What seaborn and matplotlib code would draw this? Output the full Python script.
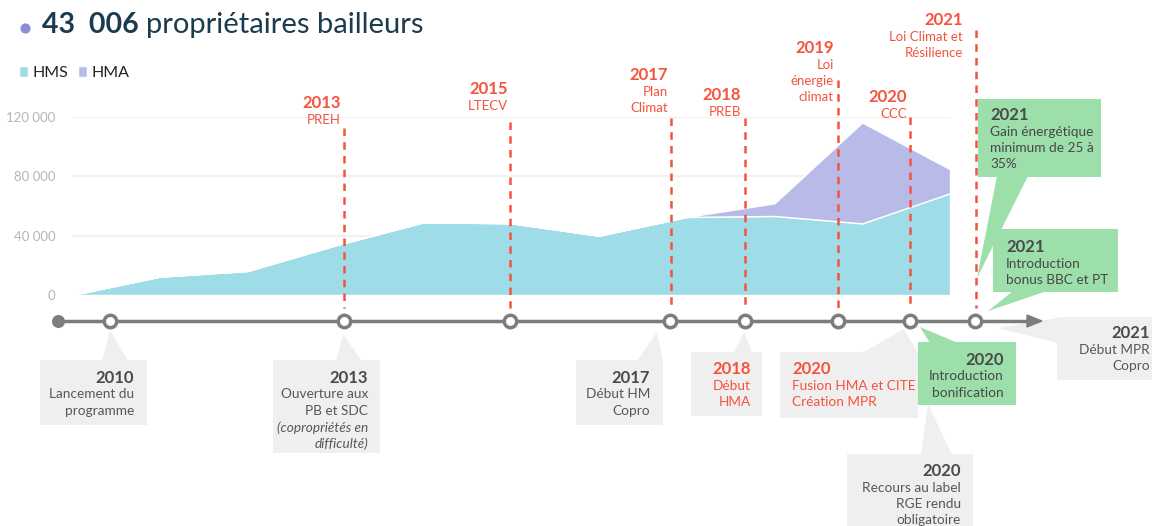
import matplotlib
matplotlib.use("Agg")
import matplotlib.pyplot as plt
import seaborn as sns
from matplotlib.patches import Rectangle, Polygon
from matplotlib.ticker import FuncFormatter

# --- données ---
periodes = list(range(11))
hms = [0, 12400, 16200, 33500, 49000, 48400, 40000, 52600, 53300, 48300, 68600]
hma = [0, 0, 0, 0, 0, 0, 0, 0, 8500, 68000, 16200]
series = ["HMS", "HMA"]
yticks = [0, 40000, 80000, 120000]

titre_chiffre = "43  006"
titre_texte = "propriétaires bailleurs"

lois_annees = ["2013", "2015", "2017", "2018", "2019", "2020", "2021"]
lois_noms = ["PREH", "LTECV", "Plan\nClimat", "PREB", "Loi\nénergie\nclimat", "CCC",
             "Loi Climat et\nRésilience"]

etapes_annees = ["2010", "2013", "2017", "2018", "2020", "2020", "2020", "2021", "2021", "2021"]
etapes_textes = [
    ["Lancement du", "programme"],
    ["Ouverture aux", "PB et SDC", "(copropriétés en", "difficulté)"],
    ["Début HM", "Copro"],
    ["Début", "HMA"],
    ["Fusion HMA et CITE", "Création MPR"],
    ["Introduction", "bonification"],
    ["Recours au label", "RGE rendu", "obligatoire"],
    ["Début MPR", "Copro"],
    ["Gain énergétique", "minimum de 25 à", "35%"],
    ["Introduction", "bonus BBC et PT"],
]

# --- mise en page (pixels) ---
W, H = 1152, 526
lois_x = [344, 510, 671, 745, 838, 910, 976]
lois_txt = [(341, 103), (508, 89), (668, 75), (741, 95), (834, 48), (907, 97), (963, 20)]
lois_debut = [128, 122, 118, 118, 80, 117, 30]
jalons_x = [110, 344, 510, 670, 745, 838, 910, 975]

# (boîte, pointeur, ancrage texte, alignement, style)
callouts = [
    ((40, 360, 147, 425), [(110, 330), (102, 361), (128, 361)], (134, 378), "right", "gris"),
    ((273, 360, 380, 453), [(343, 334), (336, 361), (362, 361)], (368, 378), "right", "gris"),
    ((576, 360, 663, 425), [(657, 332), (637, 361), (663, 361)], (650, 378), "right", "gris"),
    ((691, 352, 762, 416), [(744, 332), (734, 353), (752, 353)], (751, 369), "right", "rouge"),
    ((780, 352, 918, 418), [(862, 353), (904, 329), (918, 353)], (792, 369), "left", "rouge"),
    ((918, 342, 1016, 405), [(920, 327), (930, 343), (958, 343)], (1004, 360), "right", "vert"),
    ((847, 454, 973, 530), [(928, 404), (921, 455), (952, 455)], (961, 471), "right", "gris"),
    ((1057, 317, 1160, 380), [(997, 328), (1058, 318), (1058, 343)], (1150, 333), "right", "gris"),
    ((978, 99, 1101, 177), [(997, 176), (1028, 176), (977, 278)], (990, 115), "left", "vert"),
    ((993, 229, 1118, 292), [(1013, 291), (1047, 291), (988, 311)], (1006, 247), "left", "vert"),
]

c_hms = "#9EDDE8"
c_hma = "#B8BBE8"
rouge = "#F5533D"
gris_fond = "#EFEFEF"
vert_fond = "#9DDFAB"
gris_ligne = "#7D7D7D"
navy = "#1C3B4F"

sns.set_theme(style="white")
plt.rcParams["font.family"] = ["Lato", "DejaVu Sans"]

fig = plt.figure(figsize=(W / 100, H / 100), dpi=100)

# --- graphique en aires ---
x0, x1, y0, y1 = 72, 950, 295, 117
ax = fig.add_axes([x0 / W, (H - y0) / H, (x1 - x0) / W, (y0 - y1) / H])
polys = ax.stackplot(periodes, hms, hma, colors=[c_hms, c_hma], labels=series, zorder=2)
ax.set_xlim(0, 10)
ax.set_ylim(0, 120000)
ax.set_yticks(yticks)
ax.yaxis.set_major_formatter(FuncFormatter(lambda v, p: f"{int(v):,}".replace(",", " ")))
ax.set_xticks([])
ax.tick_params(axis="y", length=0, pad=12, labelsize=9.5, labelcolor="#B5B5B5")
ax.grid(axis="y", color="#F1F1F1", linewidth=1.5, zorder=0)
ax.set_axisbelow(True)
sns.despine(ax=ax, left=True, bottom=True)
ax.patch.set_alpha(0)

fig.legend(handles=polys, labels=series, loc="center left", bbox_to_anchor=(5 / W, 1 - 73 / H),
           ncol=2, frameon=False, handlelength=0.55, handleheight=0.7, handletextpad=0.3,
           columnspacing=0.6, fontsize=11.5, labelcolor="#222222")

# --- surcouche annotations ---
ov = fig.add_axes([0, 0, 1, 1])
ov.set_xlim(0, W)
ov.set_ylim(H, 0)
ov.axis("off")
ov.patch.set_alpha(0)

# titre
ov.scatter([25], [28], s=40, color="#8C8ED6", zorder=5)
ov.text(42, 25, titre_chiffre, fontsize=20.5, fontweight="bold", color=navy, va="center", ha="left")
ov.text(146, 25, titre_texte, fontsize=21, color=navy, va="center", ha="left")

# lois en rouge
for annee, nom, lx, (tx, ty), yd in zip(lois_annees, lois_noms, lois_x, lois_txt, lois_debut):
    ov.plot([lx, lx], [yd, 308], color=rouge, linewidth=1.8, linestyle=(0, (3, 2.5)), zorder=3)
    ov.text(tx, ty, annee, fontsize=12, fontweight="bold", color=rouge, ha="right", va="center")
    for i, ligne in enumerate(nom.split("\n")):
        ov.text(tx, ty + 17 + 16 * i, ligne, fontsize=9.5, color=rouge, ha="right", va="center")

# frise chronologique
ov.plot([58, 1030], [321, 321], color=gris_ligne, linewidth=2.5, zorder=4, solid_capstyle="butt")
ov.add_patch(Polygon([(1027, 315), (1042, 321), (1027, 327)], closed=True, color=gris_ligne, zorder=4))
ov.scatter([58], [321], s=70, color=gris_ligne, zorder=5)
ov.scatter(jalons_x, [321] * len(jalons_x), s=80, facecolor="white", edgecolor=gris_ligne,
           linewidth=2.5, zorder=6)

# bulles
for annee, lignes, (box, ptr, (tx, ty), ha, style) in zip(etapes_annees, etapes_textes, callouts):
    fond = vert_fond if style == "vert" else gris_fond
    c_an = rouge if style == "rouge" else "#4A4A4A"
    c_tx = rouge if style == "rouge" else "#575757"
    if style == "vert":
        c_tx = "#474747"
    bx0, by0, bx1, by1 = box
    ov.add_patch(Rectangle((bx0, by0), bx1 - bx0, by1 - by0, color=fond, zorder=2, linewidth=0))
    ov.add_patch(Polygon(ptr, closed=True, color=fond, zorder=2, linewidth=0))
    ov.text(tx, ty, annee, fontsize=12, fontweight="bold", color=c_an, ha=ha, va="center", zorder=7)
    for i, ligne in enumerate(lignes):
        ital = "italic" if ligne.startswith("(") or ligne.endswith("é)") else "normal"
        ov.text(tx, ty + 16.5 * (i + 1), ligne, fontsize=9.8, color=c_tx, ha=ha, va="center",
                style=ital, zorder=7)

fig.savefig("out.png", dpi=100)
